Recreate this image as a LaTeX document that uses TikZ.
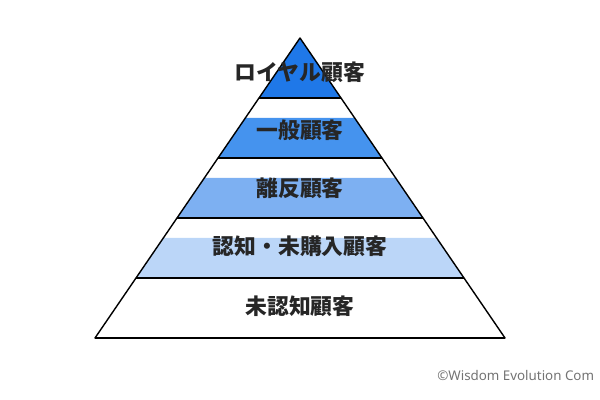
\documentclass[tikz,border=0pt]{standalone}
\usepackage{fontspec}
\newfontfamily\cjk{Noto Sans CJK JP}
\setmainfont{Noto Sans}
\usetikzlibrary{calc}
\definecolor{tierA}{HTML}{1F78E8}
\definecolor{tierB}{HTML}{4593EE}
\definecolor{tierC}{HTML}{7DB0F2}
\definecolor{tierD}{HTML}{BBD6F8}
\begin{document}
\begin{tikzpicture}[x=0.025cm,y=-0.025cm,
			tier/.style={draw=black, line width=1pt, line join=round},
			label/.style={font=\cjk\bfseries\fontsize{15.5}{18}\selectfont, text=black!85}
			]
			\useasboundingbox (0,0) rectangle (600,400);
			% corner points of the pyramid
			\coordinate (apex) at (300,38);
			\coordinate (bl) at (95,338);
			\coordinate (br) at (505,338);
			% tiers from top to bottom
			\foreach \i/\col in {0/tierA,1/tierB,2/tierC,3/tierD,4/white}{
				\pgfmathsetmacro{\ta}{(20+60*\i)/300}
				\pgfmathsetmacro{\tb}{(60+60*\i)/300}
				\ifnum\i=0
					\fill[\col] (apex) -- ($(apex)!\tb!(br)$) -- ($(apex)!\tb!(bl)$) -- cycle;
				\else
					\fill[\col] ($(apex)!\ta!(bl)$) -- ($(apex)!\ta!(br)$) -- ($(apex)!\tb!(br)$) -- ($(apex)!\tb!(bl)$) -- cycle;
				\fi
				\draw[tier] ($(apex)!\tb!(bl)$) -- ($(apex)!\tb!(br)$);
			}
			\draw[tier] (bl) -- (apex) -- (br) -- cycle;
			% tier labels
			\node[label] (loyal) at (300,72) {ロイヤル顧客};
			\node[label] (general) at (300,130) {一般顧客};
			\node[label] (lapsed) at (300,188) {離反顧客};
			\node[label] (aware) at (300,246) {認知・未購入顧客};
			\node[label] (unaware) at (300,306) {未認知顧客};
			\node[anchor=west, font=\fontsize{9.5}{11}\selectfont, text=black!55, inner sep=0] (credit) at (437,375) {©Wisdom Evolution Com};
		\end{tikzpicture}
\end{document}
